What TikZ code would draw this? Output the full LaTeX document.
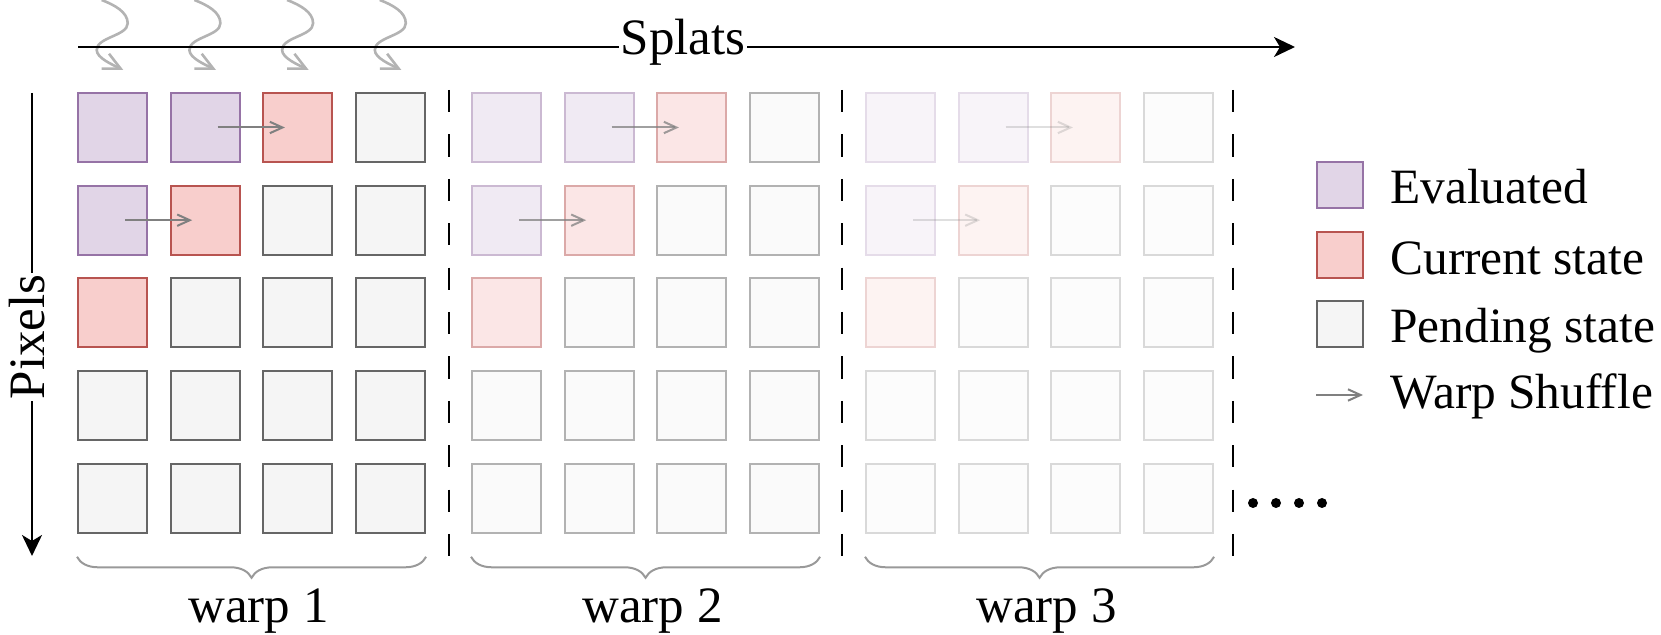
\documentclass[tikz,border=0pt]{standalone}
\usepackage{fontspec}
\setmainfont{Liberation Serif}
\usetikzlibrary{arrows.meta,decorations.pathreplacing,calc}
\definecolor{evalF}{HTML}{E1D5E7}
\definecolor{evalD}{HTML}{9673A6}
\definecolor{currF}{HTML}{F8CECC}
\definecolor{currD}{HTML}{B85450}
\definecolor{pendF}{HTML}{F5F5F5}
\definecolor{pendD}{HTML}{666666}
\definecolor{shufC}{HTML}{808080}
\definecolor{waveC}{HTML}{B3B3B3}
\definecolor{braceC}{HTML}{999999}
\begin{document}
\begin{tikzpicture}[x=0.5pt,y=-0.5pt,
  font=\fontsize{25.5}{30}\selectfont,
  cell/.style={rectangle, draw, line width=1pt, minimum size=34.5pt, inner sep=0pt},
  legcell/.style={rectangle, draw, line width=1pt, minimum size=23pt, inner sep=0pt},
  shuffle/.style={draw=shufC, line width=1pt, -{Straight Barb[length=6.3pt,width=5.7pt]}},
  wave/.style={draw=waveC, line width=1.3pt, -{Straight Barb[length=8.5pt,width=8.3pt]}},
  bigarrow/.style={draw=black, line width=1.1pt, -{Stealth[length=10.5pt,width=10pt,inset=3pt]}},
  sep/.style={draw=black, line width=1.1pt, dash pattern=on 11.1pt off 11.1pt},
  bracestyle/.style={draw=braceC, line width=1pt, decorate, decoration={brace, mirror, amplitude=10.5pt}},
  lbl/.style={inner sep=0pt, anchor=base},
  legtxt/.style={inner sep=0pt, anchor=base west, font=\fontsize{24.7}{30}\selectfont}]
\useasboundingbox (0,0) rectangle (1661,635);

% wavy arrows (splats coming in)
\foreach \c in {0,...,3} {
  \pgfmathsetmacro\cx{112.5+92.7*\c}
  \coordinate (wvS\c) at ({\cx-10.8},0);
  \coordinate (wvE\c) at ({\cx+10.8},70);
  \draw[wave] (wvS\c) .. controls ({\cx+2},5) and ({\cx+15.2},12) .. ({\cx+15.2},23.3)
     .. controls ({\cx+15.2},36) and ({\cx-15.8},37) .. ({\cx-15.8},50)
     .. controls ({\cx-15.8},58) and ({\cx},64.7) .. (wvE\c);
}

% Splats axis
\coordinate (sS) at (78,47);
\coordinate (sE) at (1295,47);
\draw[bigarrow] (sS) -- (sE);
\node[lbl, fill=white, inner xsep=1pt] (splats) at (683,55) {Splats};

% Pixels axis
\coordinate (pS) at (32,93);
\coordinate (pE) at (32,556);
\draw[bigarrow] (pS) -- (pE);
\node[lbl, fill=white, inner xsep=1pt, rotate=90] (pixels) at (44,337) {Pixels};

% grids
\foreach \w/\f/\ao in {0/100/1, 1/50/0.75, 2/25/0.25} {
  \foreach \r in {0,...,4} {
    \foreach \c in {0,...,3} {
      \pgfmathtruncatemacro\s{\r+\c}
      \ifnum\s<2 \def\st{eval}\else\ifnum\s=2 \def\st{curr}\else\def\st{pend}\fi\fi
      \node[cell, draw=\st D!\f!white, fill=\st F!\f!white] (w\w r\r c\c)
        at ({112.5+394*\w+92.7*\c},{127.5+92.7*\r}) {};
    }
  }
  \draw[shuffle, opacity=\ao] ([xshift=6.25pt]w\w r0c1.center) -- ([xshift=-6.5pt]w\w r0c2.center);
  \draw[shuffle, opacity=\ao] ([xshift=6.25pt]w\w r1c0.center) -- ([xshift=-6.5pt]w\w r1c1.center);
  \draw[bracestyle] ($(w\w r4c0.south west)+(0,23)$) -- ($(w\w r4c3.south east)+(0,23)$);
}

% warp labels
\node[lbl] (warp1) at (258.5,623) {warp 1};
\node[lbl] (warp2) at (652.5,623) {warp 2};
\node[lbl] (warp3) at (1046.5,623) {warp 3};

% separators
\foreach \x/\n in {449/a, 842/b, 1233/c} {
  \coordinate (sep\n T) at (\x,90);
  \coordinate (sep\n B) at (\x,557);
  \draw[sep] (sep\n T) -- (sep\n B);
}

% dots
\foreach \x in {1253,1276,1299,1322} { \fill[black] (\x,503) circle (2.5pt); }

% legend
\node[legcell, draw=evalD, fill=evalF] (legE) at (1340,185.5) {};
\node[legcell, draw=currD, fill=currF] (legC) at (1340,255) {};
\node[legcell, draw=pendD, fill=pendF] (legP) at (1340,324.5) {};
\coordinate (legAS) at (1316,395);
\coordinate (legAE) at (1363,395);
\draw[shuffle] (legAS) -- (legAE);
\node[legtxt] (tE) at (1390,204) {Evaluated};
\node[legtxt] (tC) at (1390,275) {Current state};
\node[legtxt] (tP) at (1390,343) {Pending state};
\node[legtxt] (tW) at (1390,409) {Warp Shuffle};
\end{tikzpicture}
\end{document}
